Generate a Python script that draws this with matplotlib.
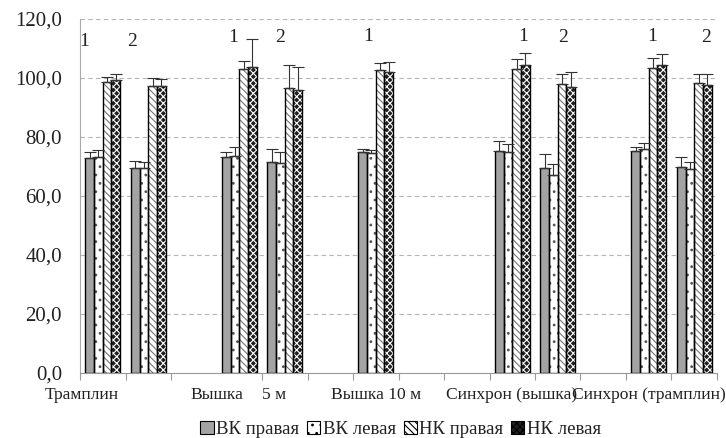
import matplotlib.pyplot as plt
import numpy as np

plt.rcParams['font.family'] = ['Liberation Serif', 'DejaVu Serif']
plt.rcParams['hatch.linewidth'] = 0.8

nan = np.nan
# 14 category slots on the x axis (empty slots keep the gaps between groups)
vk_right = [73.0, 69.5, nan, 73.3, 71.6, nan, 75.0, nan, nan, 75.2, 69.4, nan, 75.4, 70.0]
vk_left = [73.2, 69.6, nan, 73.6, 71.1, nan, 74.5, nan, nan, 75.0, 67.0, nan, 75.8, 69.3]
nk_right = [98.8, 97.3, nan, 102.9, 96.5, nan, 102.7, nan, nan, 103.0, 98.0, nan, 103.5, 98.2]
nk_left = [99.3, 97.2, nan, 103.6, 95.9, nan, 102.1, nan, nan, 104.4, 97.1, nan, 104.4, 97.6]

vk_right_err = [2.0, 2.2, nan, 1.7, 4.4, nan, 1.0, nan, nan, 3.5, 4.7, nan, 1.3, 3.3]
vk_left_err = [2.3, 2.0, nan, 2.9, 3.7, nan, 1.0, nan, nan, 2.5, 3.7, nan, 2.0, 2.3]
nk_right_err = [1.4, 2.6, nan, 3.0, 7.9, nan, 2.3, nan, nan, 3.5, 3.4, nan, 3.2, 3.2]
nk_left_err = [2.1, 2.3, nan, 9.5, 7.7, nan, 3.4, nan, nan, 4.2, 4.8, nan, 3.7, 3.8]

series_names = ['ВК правая', 'ВК левая', 'НК правая', 'НК левая']
cat_labels = ['Трамплин', 'Вышка', '5 м', 'Вышка 10 м', 'Синхрон (вышка)', 'Синхрон (трамплин)']
cat_label_pos = [-0.46, 2.5, 3.76, 6.0, 8.98, 12.0]
marks = ['1', '2', '1', '2', '1', '1', '2', '1', '2']
mark_x = [-0.41, 0.64, 2.86, 3.90, 5.83, 9.24, 10.12, 12.07, 13.26]
mark_y = [112.5, 112.5, 113.9, 113.9, 114.2, 114.2, 113.9, 114.2, 113.9]

# face, hatch, hatch colour
styles = [
    ('#a3a3a3', None, '#a3a3a3'),
    ('white', '..', '#555555'),
    ('white', '\\\\\\\\\\', '#777777'),
    ('#202020', 'xxxxx', 'white'),
]

fig = plt.figure(figsize=(7.26, 4.38), dpi=100)
ax = fig.add_axes([0.1102, 0.1484, 0.8774, 0.8082])

x = np.arange(len(vk_right))
w = 0.192
values = [vk_right, vk_left, nk_right, nk_left]
errors = [vk_right_err, vk_left_err, nk_right_err, nk_left_err]
handles = []
for i, (vals, errs) in enumerate(zip(values, errors)):
    face, hatch, hcol = styles[i]
    xs = x + (i - 1.5) * w
    vals = np.array(vals)
    errs = np.array(errs)
    ax.bar(xs, vals, w, color=face, hatch=hatch, edgecolor=hcol, linewidth=0, zorder=3)
    ax.bar(xs, vals, w, fill=False, edgecolor='black', linewidth=1.0, zorder=4)
    ax.errorbar(xs, vals, yerr=[np.zeros_like(errs), errs], fmt='none',
                ecolor='#333333', elinewidth=0.8, capsize=4, capthick=0.8, zorder=5)
    handles.append(plt.Rectangle((0, 0), 1, 1, facecolor=face, hatch=hatch,
                                 edgecolor='black', linewidth=0.8))

ax.set_xlim(-0.5, 13.5)
ax.set_ylim(0, 120)
ax.set_yticks(np.arange(0, 121, 20))
ax.set_yticklabels([f'{v:.1f}'.replace('.', ',') for v in np.arange(0, 121, 20)])
ax.tick_params(axis='y', length=0, pad=13, labelsize=15, labelcolor='#222222')

ax.set_xticks(cat_label_pos)
ax.set_xticklabels(cat_labels)
ax.tick_params(axis='x', length=0, pad=10, labelsize=12.6, labelcolor='#222222')
ax.set_xticks(np.arange(-0.5, 13.6, 1), minor=True)
ax.tick_params(axis='x', which='minor', length=5, color='#999999', width=0.8)

ax.yaxis.grid(True, color='#b5b5b5', linestyle=(0, (4, 3)), linewidth=0.8)
ax.set_axisbelow(True)
for s in ['top', 'right']:
    ax.spines[s].set_visible(False)
ax.spines['left'].set_color('#aaaaaa')
ax.spines['bottom'].set_color('#999999')

for t, mx, my in zip(marks, mark_x, mark_y):
    ax.text(mx, my, t, ha='center', va='center', fontsize=14, color='#222222')

fig.legend(handles, series_names, loc='center', bbox_to_anchor=(0.552, 0.02), ncol=4,
           frameon=False, fontsize=13.5, handlelength=0.7, handleheight=0.7,
           handletextpad=0.15, columnspacing=0.4, labelcolor='#222222')

fig.savefig('out.png', dpi=100)
